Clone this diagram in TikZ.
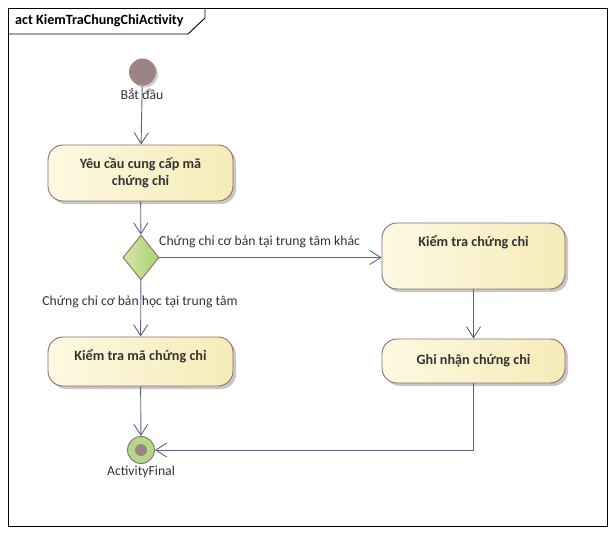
\documentclass[tikz,border=0pt]{standalone}
\usepackage{fontspec}
\setmainfont{Carlito}
\usetikzlibrary{arrows.meta,shapes.geometric,shadows}
\definecolor{edgec}{HTML}{5A6485}
\definecolor{boxb}{HTML}{8C6E6E}
\definecolor{boxl}{HTML}{FDF9E2}
\definecolor{boxr}{HTML}{F6EBB8}
\definecolor{startc}{HTML}{9C8484}
\definecolor{decl}{HTML}{D6E8A8}
\definecolor{decr}{HTML}{A9CF73}
\definecolor{txt}{HTML}{333333}
\tikzset{
  actbox/.style={draw=boxb, line width=0.9pt, rounded corners=15pt, left color=boxl, right color=boxr,
    drop shadow={shadow xshift=3pt, shadow yshift=-3pt, fill=black!22, opacity=1},
    font=\fontsize{14.2}{17}\selectfont\bfseries, text=txt, align=center, inner sep=0pt},
  acttext/.style={font=\fontsize{14.2}{17}\selectfont\bfseries, text=txt, inner sep=0pt},
  flow/.style={draw=edgec, line width=0.9pt, -{Straight Barb[length=11pt,width=14pt,line width=0.9pt]}},
  lbl/.style={font=\fontsize{13.7}{16}\selectfont, text=txt, inner sep=1pt},
}
\begin{document}
\begin{tikzpicture}[x=1pt,y=-1pt]
\useasboundingbox (0,0) rectangle (616,538);
% frame
\draw[line width=0.9pt] (8,8) rectangle (607,526);
\draw[line width=0.9pt] (8,34) -- (188,34) -- (205,18) -- (205,8);
\node[anchor=west, font=\fontsize{14.1}{17}\selectfont\bfseries, inner sep=0pt] (title) at (15,21) {act KiemTraChungChiActivity};
% start
\node[circle, fill=startc, minimum size=27pt, inner sep=0pt,
  drop shadow={shadow xshift=2pt, shadow yshift=-2pt, fill=black!20, opacity=1}] (start) at (142.5,72) {};
% actions
\node[actbox, minimum width=185pt, minimum height=56pt] (a1) at (140.5,173) {Yêu cầu cung cấp mã\\chứng chỉ};
\node[diamond, draw=boxb, line width=0.9pt, left color=decl, right color=decr, minimum width=36pt, minimum height=45pt, inner sep=0pt] (dec) at (141,257.5) {};
\node[actbox, minimum width=183pt, minimum height=66pt] (a2) at (473.5,256) {};
\node[actbox, minimum width=183pt, minimum height=44pt] (a3) at (473.5,361) {Ghi nhận chứng chỉ};
\node[actbox, minimum width=185pt, minimum height=49pt] (a4) at (140.5,361.5) {};
\node[acttext] (a2t) at (473.5,242) {Kiểm tra chứng chỉ};
\node[acttext] (a4t) at (140.5,356) {Kiểm tra mã chứng chỉ};
% final
\node[circle, draw=boxb, line width=0.9pt, fill=decr!85, minimum size=27pt, inner sep=0pt] (fin) at (141,450) {};
\node[circle, fill=startc, minimum size=12pt, inner sep=0pt] (finin) at (fin.center) {};
% edges
\draw[flow] (start) -- (a1);
\node[lbl] (sl) at (142,94) {Bắt đầu};
\draw[flow] (a1) -- (dec);
\draw[flow] (dec.east) -- (a2.west |- dec.east);
\draw[flow] (dec) -- (a4);
\draw[flow] (a2) -- (a3);
\draw[flow] (a4) -- (fin);
\draw[flow] (a3.south) |- (fin.east);
\node[lbl, anchor=south west] (l1) at (158,249) {Chứng chỉ cơ bản tại trung tâm khác};
\node[lbl] (l2) at (140,302) {Chứng chỉ cơ bản học tại trung tâm};
\node[lbl] (fl) at (141,472) {ActivityFinal};
\end{tikzpicture}
\end{document}
